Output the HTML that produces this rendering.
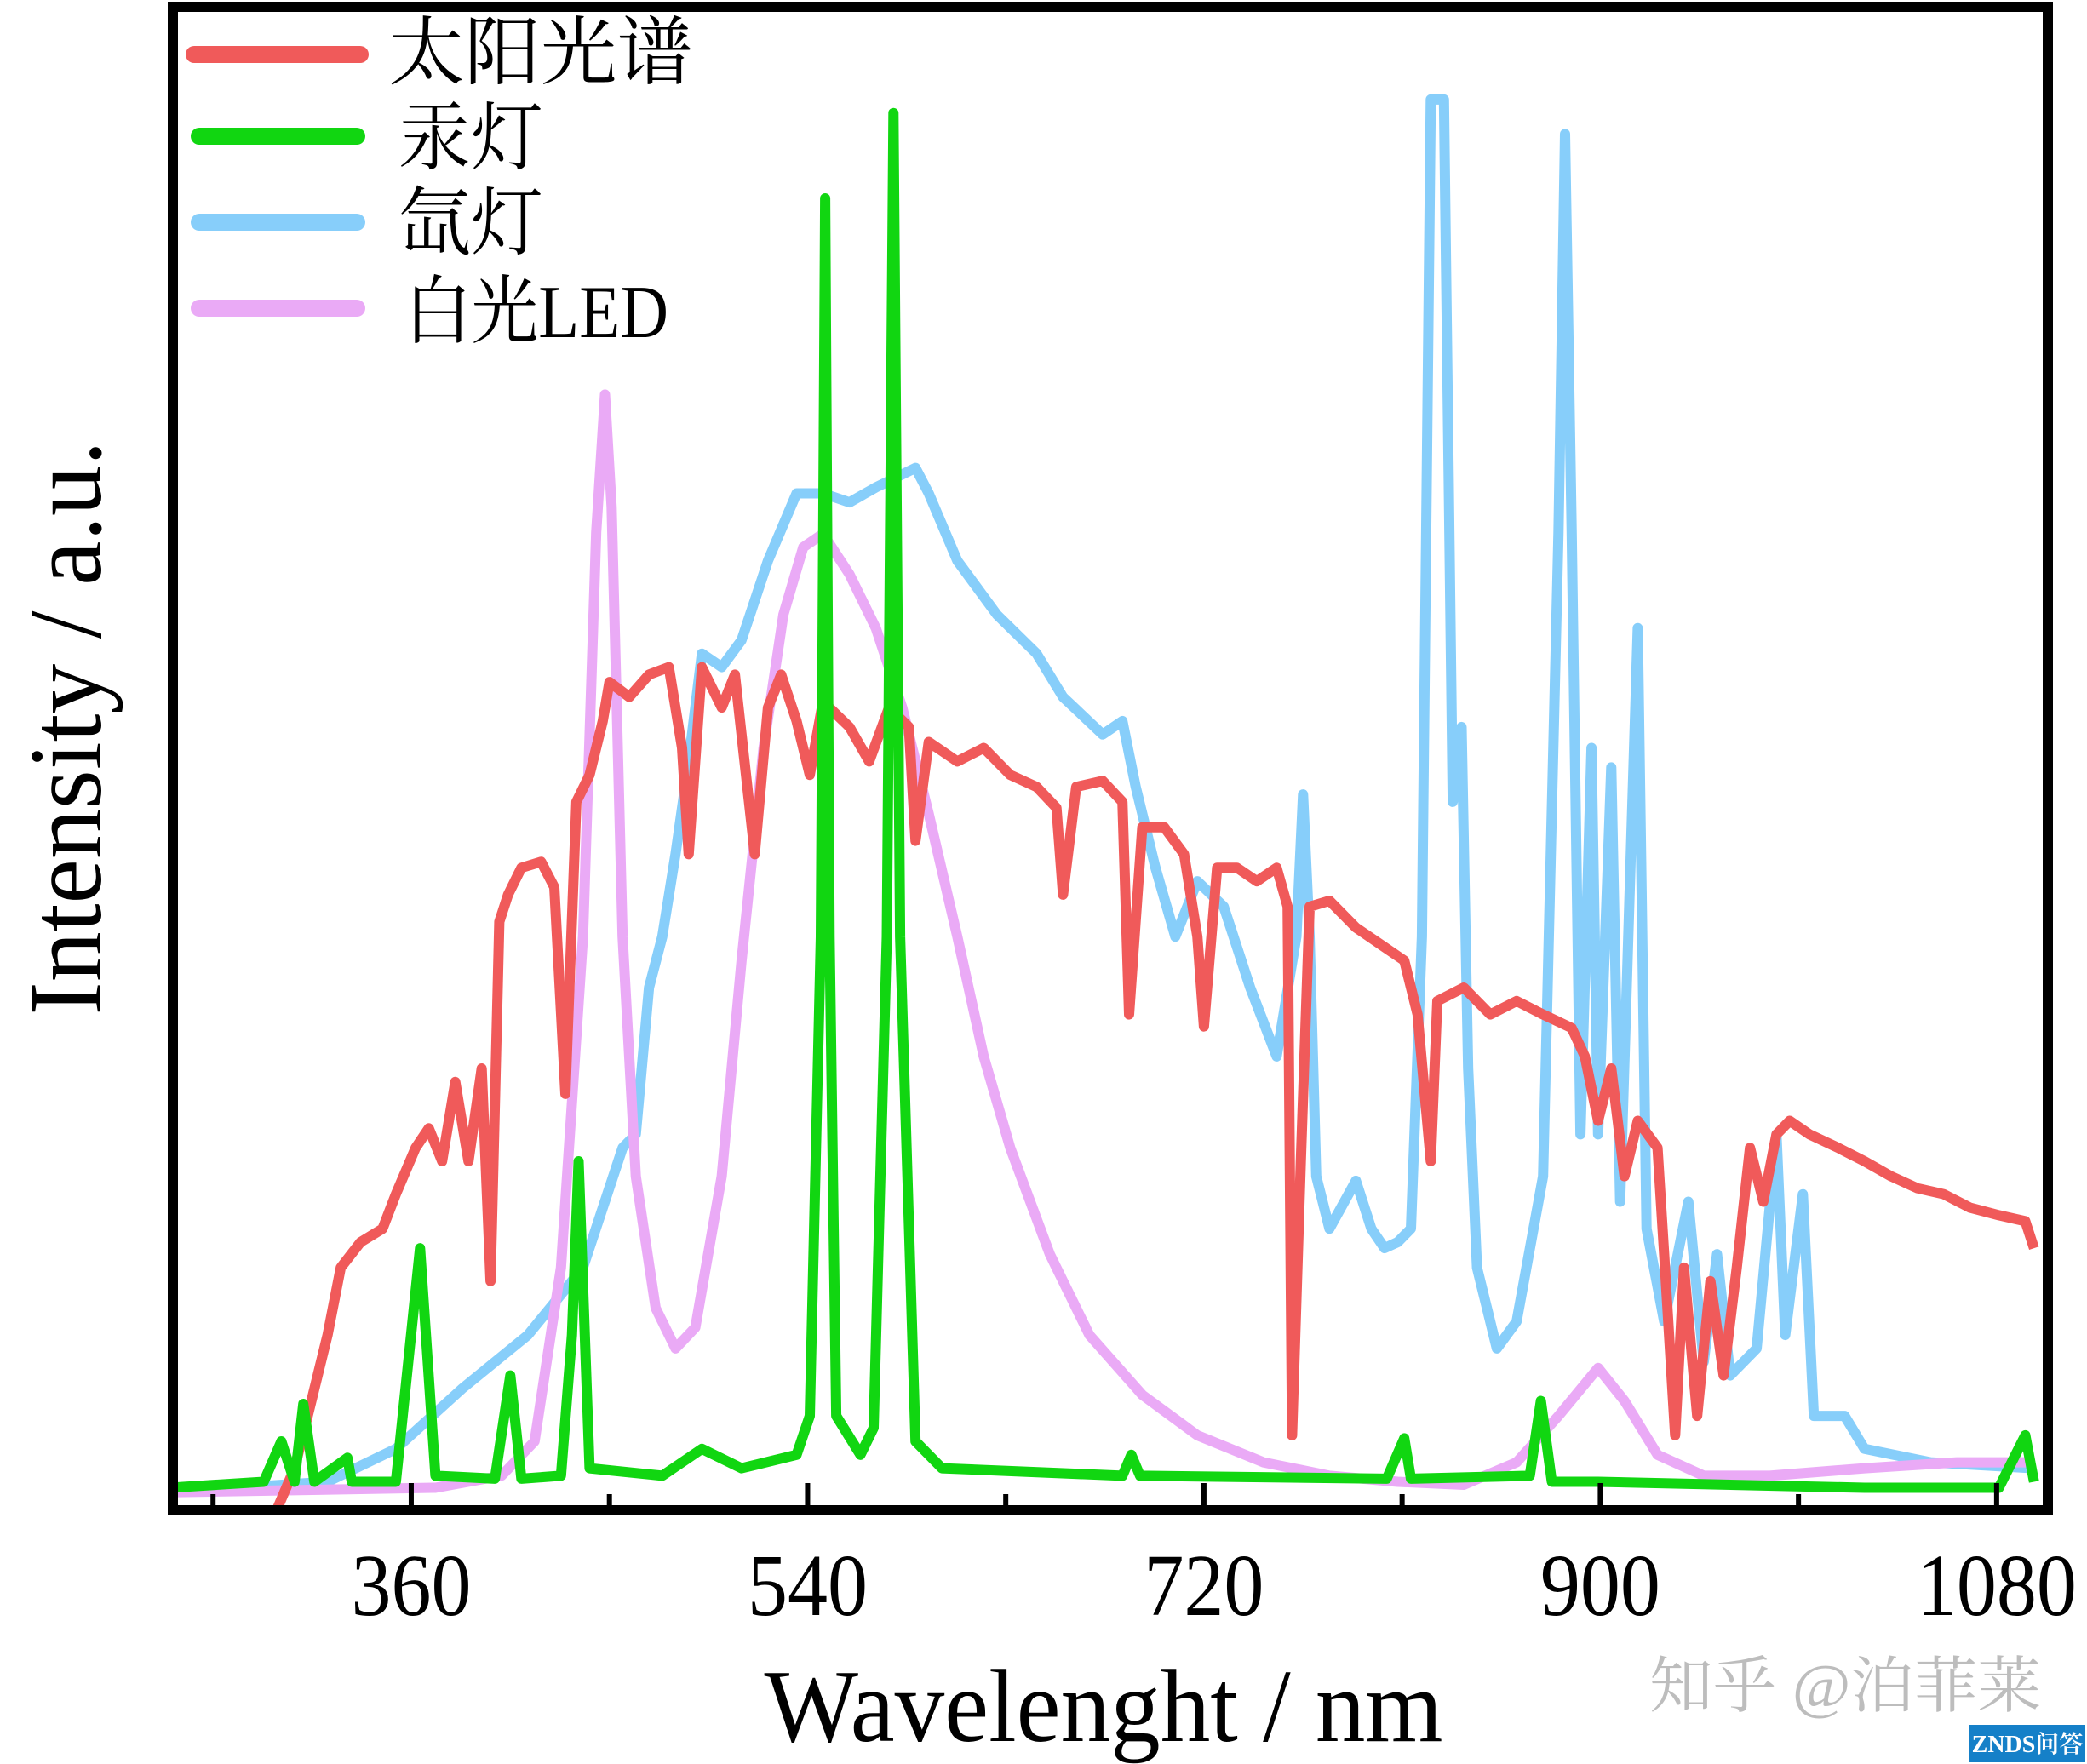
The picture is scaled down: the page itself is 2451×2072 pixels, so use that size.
<!DOCTYPE html>
<html><head><meta charset="utf-8">
<style>
html,body{margin:0;padding:0;background:#fff;}
svg{display:block;}
text{font-family:"Liberation Serif","Noto Serif CJK SC",serif;}
</style></head>
<body>
<svg id="chart" width="2451" height="2072" viewBox="0 0 2451 2072" xmlns="http://www.w3.org/2000/svg">
<defs><clipPath id="plotclip"><rect x="209" y="14" width="2190" height="1754"/></clipPath></defs>
<g id="series" clip-path="url(#plotclip)"></g>
<rect x="203" y="8" width="2202" height="1766" fill="none" stroke="#000" stroke-width="12"/>
<g id="ticks"></g>
<text x="1296" y="2045" font-size="122" text-anchor="middle" textLength="797" lengthAdjust="spacingAndGlyphs">Wavelenght / nm</text>
<text transform="translate(118,855) rotate(-90)" font-size="122" text-anchor="middle" textLength="675" lengthAdjust="spacingAndGlyphs">Intensity / a.u.</text>
<g>
  <line x1="228" y1="64" x2="423" y2="64" stroke="#f05a5a" stroke-width="20" stroke-linecap="round"/>
  <text x="456" y="92" font-size="88" textLength="358" lengthAdjust="spacingAndGlyphs">太阳光谱</text>
  <line x1="234" y1="160" x2="419" y2="160" stroke="#11d611" stroke-width="20" stroke-linecap="round"/>
  <text x="468" y="192" font-size="88" textLength="170" lengthAdjust="spacingAndGlyphs">汞灯</text>
  <line x1="234" y1="261" x2="419" y2="261" stroke="#87cefa" stroke-width="20" stroke-linecap="round"/>
  <text x="468" y="292" font-size="88" textLength="170" lengthAdjust="spacingAndGlyphs">氙灯</text>
  <line x1="234" y1="362" x2="419" y2="362" stroke="#eaaaf6" stroke-width="20" stroke-linecap="round"/>
  <text x="475" y="396" font-size="88" textLength="310" lengthAdjust="spacingAndGlyphs">白光LED</text>
</g>
<text x="1937" y="2005" font-size="72" fill="#bdbdbd" font-family="'Liberation Sans','Noto Sans CJK SC',sans-serif" textLength="460" lengthAdjust="spacingAndGlyphs">知乎 @泊菲莱</text>
<rect x="2313" y="2026" width="136" height="44" fill="#1580c8"/>
<text x="2381" y="2058" font-size="28" fill="#fff" text-anchor="middle" font-family="'Liberation Sans','Noto Sans CJK SC',sans-serif" font-weight="bold">ZNDS问答</text>
</svg>
<script>
const NS='http://www.w3.org/2000/svg';
const xMajorTicks=[360,540,720,900,1080];
const xMinorTicks=[270,450,630,810,990];
const solarNm=[298,307,313,322,328,337,347,353,362,368,374,380,386,392,396,400,404,410,419,425,430,435,441,447,450,459,468,477,483,486,492,501,507,516,522,528,535,541,547,559,568,577,586,589,595,608,620,632,644,653,656,662,674,683,686,692,702,711,717,720,726,735,744,753,758,760,764,768,777,789,802,811,817,823,826,838,850,862,874,887,893,899,905,911,917,926,929,934,938,944,950,956,962,968,974,980,986,995,1008,1020,1032,1044,1056,1068,1081,1093,1097];
const solarVal=[-0.6,2.5,6,11.4,15.9,17.6,18.5,20.8,23.9,25.2,23,28.3,23,29.2,15,39,40.8,42.6,43,41.3,27.5,47,48.8,52.4,55,54,55.5,56,50.6,43.5,56,53.3,55.5,43.5,53.3,55.5,52.4,48.8,53.7,52,49.7,53.3,52,44.4,51,49.7,50.6,48.8,48,46.6,40.8,48,48.4,47,32.8,45.3,45.3,43.5,38,32,42.6,42.6,41.7,42.6,40,4.7,23,40,40.4,38.6,37.3,36.4,32.8,23,33.7,34.6,32.8,33.7,32.8,31.9,30,25.7,29.2,22,25.7,23.9,16.8,4.7,15.9,6,15,8.7,15.9,23.9,20.3,24.8,25.7,24.8,23.9,23,22,21.2,20.8,19.9,19.4,19,17.2];
const mercuryNm=[250,293,301,307,311,316,331,333,337,353,364,371,398,405,410,428,433,436,441,474,492,510,535,541,546,548,550,553,564,570,576,579,582,589,601,683,687,691,803,811,814,868,873,878,899,1020,1081,1093,1097];
const mercuryVal=[1.2,1.6,4.3,1.6,6.8,1.6,3.2,1.6,1.6,1.6,17.2,2,1.8,8.7,1.8,2,11.4,23,2.5,2,3.8,2.5,3.4,6,38,87.3,38,6,3.4,5.2,38,93,38,4.3,2.5,2,3.4,2,1.8,4.5,1.8,2,7,1.6,1.6,1.2,1.2,4.7,1.6];
const xenonNm=[250,322,353,383,413,438,456,462,468,474,480,486,492,501,510,522,535,547,559,571,589,595,608,626,644,656,674,683,689,698,707,717,729,741,753,762,765,768,771,777,789,796,802,808,814,819,823,829,833,837,840,844,853,862,874,881,884,887,891,896,899,905,909,917,921,929,940,947,953,959,971,980,984,992,997,1011,1020,1050,1097];
const xenonVal=[0.9,1.6,3.8,7.8,11.4,15.9,23.9,24.8,34.6,38,43.5,49.7,56.9,56,57.8,63.1,67.6,67.6,67,68,69.3,67.6,63.1,59.5,56.9,54,51.5,52.4,48,42.6,38,41.7,40,34.6,30,38,47.5,38,22,18.5,21.7,18.5,17.2,17.6,18.5,38,93.9,93.9,47,52,29.2,15.9,10.5,12.3,22,65,91.6,65,24.8,50.6,24.8,49.3,20.3,58.6,18.5,12.3,20.3,9.6,16.8,8.7,10.5,24.8,11.4,20.8,6,6,3.8,2.9,2.5];
const ledNm=[250,371,401,416,428,438,444,448,451,456,462,471,480,489,501,510,520,529,538,547,559,571,583,595,608,620,632,650,668,692,717,747,777,808,838,862,881,899,911,926,947,977,1020,1062,1097];
const ledVal=[0.9,1.2,2,4.3,15.9,38,65,74.2,66.7,38,22,13.2,10.5,11.9,22,36.4,50.6,59.5,64,64.9,62.2,58.6,53.3,46.2,38,30,23.9,16.8,11.4,7.4,4.7,2.9,2,1.6,1.4,2.9,6,9.2,7,3.4,2,2,2.5,2.9,2.9];

function xs(nm){return -448+nm*2.586;}
function ys(v){return 1768.6-v*17.59;}
function pathFrom(nms,vals){return nms.map((n,i)=>(i?'L':'M')+xs(n).toFixed(1)+','+ys(vals[i]).toFixed(1)).join(' ');}
const g=document.getElementById('series');
function addSeries(nms,vals,color,name){
  const p=document.createElementNS(NS,'path');
  p.setAttribute('d',pathFrom(nms,vals));
  p.setAttribute('fill','none');
  p.setAttribute('stroke',color);
  p.setAttribute('stroke-width','12');
  p.setAttribute('stroke-linejoin','round');
  
  
  g.appendChild(p);
}
addSeries(xenonNm,xenonVal,'#87cefa','xenon-lamp-line');
addSeries(ledNm,ledVal,'#eaaaf6','white-led-line');
addSeries(solarNm,solarVal,'#f05a5a','solar-spectrum-line');
addSeries(mercuryNm,mercuryVal,'#11d611','mercury-lamp-line');

const t=document.getElementById('ticks');
xMajorTicks.forEach(v=>{
  const l=document.createElementNS(NS,'line');
  l.setAttribute('x1',xs(v));l.setAttribute('x2',xs(v));
  l.setAttribute('y1',1768);l.setAttribute('y2',1742);
  l.setAttribute('stroke','#000');l.setAttribute('stroke-width','6');
  
  
  t.appendChild(l);
  const tx=document.createElementNS(NS,'text');
  tx.setAttribute('x',xs(v));tx.setAttribute('y',1897);
  tx.setAttribute('font-size','104');tx.setAttribute('text-anchor','middle');
  tx.setAttribute('textLength',String(v).length*47);
  tx.setAttribute('lengthAdjust','spacingAndGlyphs');
  tx.textContent=v;
  
  
  t.appendChild(tx);
});
xMinorTicks.forEach(v=>{
  const l=document.createElementNS(NS,'line');
  l.setAttribute('x1',xs(v));l.setAttribute('x2',xs(v));
  l.setAttribute('y1',1768);l.setAttribute('y2',1755);
  l.setAttribute('stroke','#000');l.setAttribute('stroke-width','6');
  
  
  t.appendChild(l);
});
</script>
</body></html>
